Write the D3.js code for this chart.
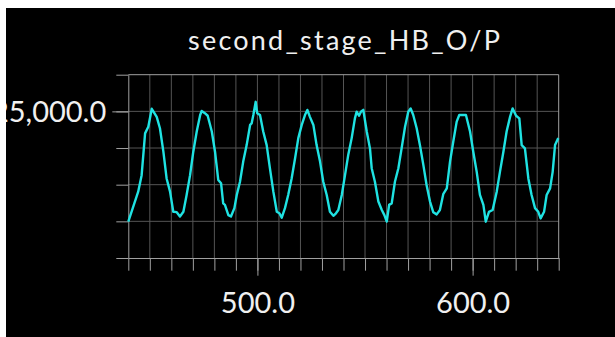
<!DOCTYPE html>
<html>
<head>
<meta charset="utf-8">
<script src="https://cdn.jsdelivr.net/npm/d3@7"></script>
<style>
html, body { margin: 0; padding: 0; background: #fff; }
#chart { position: absolute; left: 6px; top: 8px; width: 609px; height: 329px; background: #000; overflow: hidden; }
</style>
</head>
<body>
<div id="chart"></div>
<script>
// chart text
var chartTitle = "second_stage_HB_O/P";

// axis ticks
var xDomain = [440, 640];
var yDomain = [21000, 26000];
var xMinorTicks = d3.range(440, 641, 10);
var xMajorTicks = [500, 600];
var yMinorTicks = d3.range(21000, 26001, 1000);
var yMajorTicks = [25000];

// series
var timeValues = [440.0, 444.6, 446.2, 447.8, 449.3, 450.9, 453.2, 454.7, 456.3, 457.8,
  459.4, 460.9, 462.5, 464.0, 465.6, 467.1, 468.7, 470.2, 471.8, 473.4,
  474.1, 475.6, 476.9, 478.8, 480.3, 481.8, 483.1, 484.1, 484.9, 486.5,
  487.7, 489.3, 490.4, 491.9, 493.4, 495.0, 496.6, 497.3, 498.1, 499.2,
  499.9, 501.2, 502.7, 504.3, 505.8, 507.4, 509.0, 510.2, 511.3, 512.8,
  514.3, 515.9, 517.5, 519.0, 520.6, 522.1, 523.2, 524.4, 526.0, 527.5,
  529.1, 530.6, 532.2, 533.7, 535.3, 536.5, 537.6, 539.2, 540.7, 542.2,
  543.8, 545.3, 546.1, 547.2, 548.1, 549.2, 550.8, 552.3, 553.1, 554.6,
  556.2, 557.8, 559.0, 560.1, 561.2, 562.4, 563.9, 565.5, 567.0, 568.6,
  570.1, 571.2, 572.4, 574.0, 575.5, 577.1, 578.6, 580.2, 581.7, 583.3,
  584.8, 586.4, 588.0, 589.5, 591.0, 592.6, 593.8, 596.9, 598.8, 600.3,
  601.9, 603.4, 605.0, 606.1, 607.6, 609.3, 611.2, 612.7, 614.3, 615.8,
  617.4, 618.6, 620.2, 621.7, 622.8, 624.3, 625.9, 627.4, 629.0, 630.5,
  631.6, 633.2, 634.4, 636.0, 637.2, 638.3, 639.8];
var hbValues = [21990, 22810, 23260, 24400, 24580, 25070, 24850, 24540, 23900, 23170,
  22810, 22260, 22250, 22130, 22260, 22720, 23260, 23900, 24450, 24900,
  25010, 24950, 24880, 24450, 23900, 23130, 23040, 22490, 22450, 22170,
  22130, 22360, 22720, 23080, 23630, 24080, 24630, 24670, 24900, 25260,
  24950, 24900, 24450, 24080, 23450, 22810, 22260, 22220, 22100, 22360,
  22720, 23170, 23720, 24270, 24630, 24900, 25040, 24850, 24630, 24080,
  23630, 23080, 22720, 22260, 22150, 22220, 22310, 22720, 23260, 23810,
  24270, 24810, 24990, 24880, 24990, 25040, 24450, 23990, 23450, 23080,
  22540, 22310, 22170, 21990, 22450, 22490, 23080, 23450, 23990, 24580,
  24990, 25080, 24900, 24540, 24080, 23540, 22990, 22540, 22250, 22190,
  22310, 22750, 22900, 23630, 24170, 24720, 24900, 24900, 24450, 23900,
  23350, 22720, 22450, 21990, 22260, 22310, 22810, 23350, 23900, 24450,
  24850, 25080, 24880, 24810, 24080, 23990, 23170, 22720, 22360, 22260,
  22080, 22260, 22720, 22900, 23350, 24080, 24270];

var data = timeValues.map(function(t, i) { return {t: t, v: hbValues[i]}; });

// page coordinates of the plot box
var margin = {top: 74.7, right: 615 - 558.7, bottom: 337 - 258, left: 128.3},
    width = 615 - margin.left - margin.right,
    height = 337 - margin.top - margin.bottom;

var gridColor = "#555",
    axisColor = "#a0a0a0",
    textColor = "#f0f0f0",
    font = "Lato, 'DejaVu Sans', sans-serif";

var svg = d3.select("#chart")
    .append("svg")
    .attr("width", 609)
    .attr("height", 329)
    .append("g")
    .attr("transform", "translate(-6,-8)");

// title, stretched to the width it has in the original
svg.append("text")
    .attr("x", 188)
    .attr("y", 50)
    .attr("textLength", 312)
    .attr("lengthAdjust", "spacing")
    .attr("fill", textColor)
    .style("font-family", font)
    .style("font-size", "27px")
    .text(chartTitle);

var plot = svg.append("g")
    .attr("transform", "translate(" + margin.left + "," + margin.top + ")");

var x = d3.scaleLinear().domain(xDomain).range([0, width]);
var y = d3.scaleLinear().domain(yDomain).range([height, 0]);

// grid lines
plot.append("g")
    .selectAll("line.vgrid")
    .data(xMinorTicks.slice(1, -1))
    .enter().append("line")
    .attr("x1", function(d) { return x(d); })
    .attr("x2", function(d) { return x(d); })
    .attr("y1", 0)
    .attr("y2", height)
    .attr("stroke", gridColor);

plot.append("g")
    .selectAll("line.hgrid")
    .data(yMinorTicks.slice(1, -1))
    .enter().append("line")
    .attr("x1", 0)
    .attr("x2", width)
    .attr("y1", function(d) { return y(d); })
    .attr("y2", function(d) { return y(d); })
    .attr("stroke", gridColor);

// top and right border
plot.append("line")
    .attr("x1", 0).attr("x2", width)
    .attr("y1", y(yDomain[1])).attr("y2", y(yDomain[1]))
    .attr("stroke", axisColor);
plot.append("line")
    .attr("x1", x(xDomain[1])).attr("x2", x(xDomain[1]))
    .attr("y1", 0).attr("y2", height)
    .attr("stroke", axisColor);

// x axis: minor then major ticks
var xMinor = plot.append("g")
    .attr("transform", "translate(0," + height + ")")
    .call(d3.axisBottom(x).tickValues(xMinorTicks).tickSize(12.7).tickSizeOuter(0).tickFormat(""));
var xMajor = plot.append("g")
    .attr("transform", "translate(0," + height + ")")
    .call(d3.axisBottom(x).tickValues(xMajorTicks).tickSize(17.7).tickSizeOuter(0).tickFormat(d3.format(".1f")));
xMajor.select(".domain").remove();
xMajor.selectAll("text").attr("y", 55).attr("dy", 0);

// y axis: minor then major ticks
var yMinor = plot.append("g")
    .call(d3.axisLeft(y).tickValues(yMinorTicks).tickSize(12).tickSizeOuter(0).tickFormat(""));
var yMajor = plot.append("g")
    .call(d3.axisLeft(y).tickValues(yMajorTicks).tickSize(16).tickSizeOuter(0).tickPadding(6).tickFormat(d3.format(",.1f")));
yMajor.select(".domain").remove();
yMajor.selectAll("text").attr("dy", "0.36em");

plot.selectAll(".domain, .tick line").attr("stroke", axisColor);
plot.selectAll(".tick text")
    .attr("fill", textColor)
    .style("font-family", font)
    .style("font-size", "29px");

// the signal
plot.append("path")
    .datum(data)
    .attr("fill", "none")
    .attr("stroke", "#1fe2e2")
    .attr("stroke-width", 2.4)
    .attr("stroke-linejoin", "round")
    .attr("d", d3.line()
        .x(function(d) { return x(d.t); })
        .y(function(d) { return y(d.v); }));
</script>
</body>
</html>
